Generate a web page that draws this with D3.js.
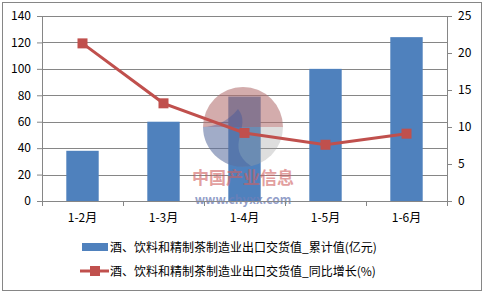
<!DOCTYPE html>
<html>
<head>
<meta charset="utf-8">
<script src="https://cdn.jsdelivr.net/npm/d3@7"></script>
<style>
  body { margin: 0; background: #fff; }
  text { font-family: "Noto Sans CJK SC", "DejaVu Sans", sans-serif; }
</style>
</head>
<body>
<div id="graf"></div>
<script>
// datos
meses = ['1-2月', '1-3月', '1-4月', '1-5月', '1-6月']
acumulado = [38, 60, 79, 100, 124]       // 累计值 (亿元)
crecimiento = [21.3, 13.2, 9.2, 7.6, 9.1] // 同比增长 (%)
ticksIzq = [0, 20, 40, 60, 80, 100, 120, 140]
ticksDer = [0, 5, 10, 15, 20, 25]
serieBarras = '酒、饮料和精制茶制造业出口交货值_累计值(亿元)'
serieLinea = '酒、饮料和精制茶制造业出口交货值_同比增长(%)'

ancho_total = 486
alto_total = 293
margins = {top: 16, left: 42, right: 39, bottom: 92}
ancho = ancho_total - margins.left - margins.right
alto = alto_total - margins.top - margins.bottom

azul = '#4f81bd'
rojo = '#c0504d'
gris = '#868686'

svg = d3.select('#graf').append('svg')
        .attr('width', ancho_total)
        .attr('height', alto_total)

// borde exterior
svg.append('rect')
   .attr('x', 2.5).attr('y', 2.5)
   .attr('width', 479).attr('height', 288)
   .attr('fill', '#fff')
   .attr('stroke', gris)

g = svg.append('g')
       .attr('transform', `translate(${margins.left}, ${margins.top})`)

x = d3.scaleBand().domain(meses).range([0, ancho])
y = d3.scaleLinear().domain([0, 140]).range([alto, 0])
y2 = d3.scaleLinear().domain([0, 25]).range([alto, 0])

// lineas de la cuadricula
g.selectAll('.grid')
 .data(ticksIzq)
 .enter().append('line')
   .attr('x1', 0).attr('x2', ancho)
   .attr('y1', d => Math.round(y(d)) + 0.5)
   .attr('y2', d => Math.round(y(d)) + 0.5)
   .attr('stroke', gris)

// barras
anchoBarra = x.bandwidth() * 0.4
g.selectAll('.bar')
 .data(acumulado)
 .enter().append('rect')
   .attr('x', (d, i) => x(meses[i]) + (x.bandwidth() - anchoBarra) / 2)
   .attr('y', d => y(d))
   .attr('width', anchoBarra)
   .attr('height', d => alto - y(d))
   .attr('fill', azul)

// marca de agua (logo encima de las barras)
cx = 201, cy = 111, rr = 40
wm = g.append('g')
wm.append('circle').attr('cx', cx).attr('cy', cy).attr('r', rr)
  .attr('fill', '#a0a0a0').attr('opacity', 0.35)
wm.append('path')
  .attr('d', `M${cx - rr},${cy} A${rr},${rr} 0 0 1 ${cx + rr},${cy} Z`)
  .attr('fill', '#c05050').attr('opacity', 0.35)
wm.append('path')
  .attr('d', `M${cx - rr},${cy} A${rr},${rr} 0 0 0 ${cx + 8},${cy + rr - 1} C${cx - 20},${cy + 20} ${cx + 10},${cy} ${cx - 5},${cy - 18} C${cx - 15},${cy - 5} ${cx - 30},${cy} ${cx - rr},${cy} Z`)
  .attr('fill', '#3050a0').attr('opacity', 0.35)
wm.append('text').attr('x', cx).attr('y', 168)
  .attr('text-anchor', 'middle').attr('font-size', 17).attr('font-weight', 'bold')
  .attr('fill', '#d06060').attr('opacity', 0.6).text('中国产业信息')
wm.append('text').attr('x', cx).attr('y', 188)
  .attr('text-anchor', 'middle').attr('font-size', 12).attr('font-weight', 'bold')
  .attr('fill', '#7080b8').attr('opacity', 0.75).text('www.chyxx.com')

// ejes
ejeIzq = d3.axisLeft(y).tickValues(ticksIzq).tickSize(5).tickPadding(6)
ejeDer = d3.axisRight(y2).tickValues(ticksDer).tickSize(5).tickPadding(6)
ejeX = d3.axisBottom(x).tickSize(0).tickPadding(12)

gi = g.append('g').call(ejeIzq)
gd = g.append('g').attr('transform', `translate(${ancho},0)`).call(ejeDer)
gx = g.append('g').attr('transform', `translate(0,${alto})`).call(ejeX)

;[gi, gd, gx].forEach(e => {
  e.selectAll('path, line').attr('stroke', gris)
  e.selectAll('text').attr('font-size', 12).attr('fill', '#000')
})
gi.selectAll('text').attr('font-family', 'Liberation Sans, Arial, sans-serif')
gd.selectAll('text').attr('font-family', 'Liberation Sans, Arial, sans-serif')

// marcas entre categorias en el eje x
bordes = meses.map(m => x(m)).concat([ancho])
g.selectAll('.xt')
 .data(bordes)
 .enter().append('line')
   .attr('x1', d => Math.round(d) + 0.5).attr('x2', d => Math.round(d) + 0.5)
   .attr('y1', alto).attr('y2', alto + 5)
   .attr('stroke', gris)

// linea de crecimiento
linea = d3.line()
          .x((d, i) => x(meses[i]) + x.bandwidth() / 2)
          .y(d => y2(d))
g.append('path')
 .datum(crecimiento)
 .attr('d', linea)
 .attr('fill', 'none')
 .attr('stroke', rojo)
 .attr('stroke-width', 3)

g.selectAll('.pt')
 .data(crecimiento)
 .enter().append('rect')
   .attr('x', (d, i) => x(meses[i]) + x.bandwidth() / 2 - 5)
   .attr('y', d => y2(d) - 5)
   .attr('width', 10).attr('height', 10)
   .attr('fill', rojo)

// leyenda
ley = svg.append('g')
ley.append('rect')
   .attr('x', 82).attr('y', 243)
   .attr('width', 26).attr('height', 8)
   .attr('fill', azul)
ley.append('text')
   .attr('x', 110).attr('y', 251.5)
   .attr('font-size', 12)
   .text(serieBarras)
ley.append('line')
   .attr('x1', 80).attr('x2', 109)
   .attr('y1', 271).attr('y2', 271)
   .attr('stroke', rojo).attr('stroke-width', 3)
ley.append('rect')
   .attr('x', 90).attr('y', 266)
   .attr('width', 10).attr('height', 10)
   .attr('fill', rojo)
ley.append('text')
   .attr('x', 110).attr('y', 275.5)
   .attr('font-size', 12)
   .text(serieLinea)
</script>
</body>
</html>
